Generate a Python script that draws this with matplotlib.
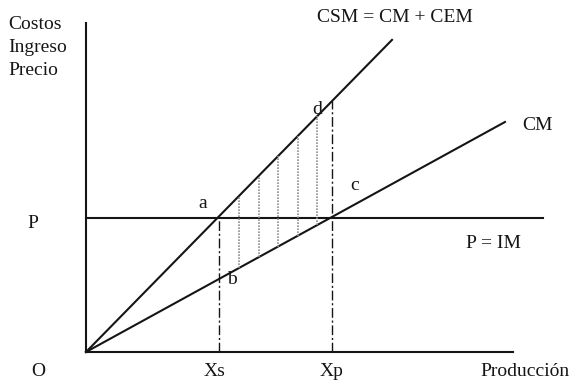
import matplotlib
matplotlib.use("Agg")
import matplotlib.pyplot as plt
import numpy as np

# quantities (1 unit ~ 10 px of the picture)
xs = 13.3          # social optimum
xp = 24.6          # private optimum
price = 13.4       # P = IM
slope_csm = 1.02   # CSM = CM + CEM
slope_cm = 0.549   # CM
x_end_csm = 30.6
x_end_cm = 41.9
x_end_p = 45.7
y_axis_top = 32.9
x_axis_end = 42.7
hatch_x = [15.3, 17.3, 19.2, 21.2, 23.1]

plt.rcParams['font.family'] = ['Liberation Serif', 'DejaVu Serif']

fig = plt.figure(figsize=(5.73, 3.87), dpi=100)
ax = fig.add_axes([0, 0, 1, 1])
ax.set_xlim(-8.6, 48.7)
ax.set_ylim(-3.5, 35.2)
ax.axis('off')

ink = '#151515'
lw = 1.5

# axes
ax.plot([0, 0], [0, y_axis_top], color=ink, lw=lw)
ax.plot([0, x_axis_end], [0, 0], color=ink, lw=lw)

# curves
ax.plot([0, x_end_csm], [0, slope_csm * x_end_csm], color=ink, lw=lw)
ax.plot([0, x_end_cm], [0, slope_cm * x_end_cm], color=ink, lw=lw)
ax.plot([0, x_end_p], [price, price], color=ink, lw=lw)

# dash-dot verticals
ax.plot([xs, xs], [0, price], color=ink, lw=1.0, ls=(0, (7, 2, 1.5, 2)))
ax.plot([xp, xp], [0, slope_csm * xp], color=ink, lw=1.0, ls=(0, (7, 2, 1.5, 2)))

# dotted hatch between CSM and CM
for hx in hatch_x:
    ax.plot([hx, hx], [slope_cm * hx, slope_csm * hx], color='#8f8f8f',
            lw=1.2, ls=(0, (1, 0.8)))

fs = 14
ax.text(-7.8, 33.6, 'Costos\nIngreso\nPrecio', fontsize=fs, va='top', ha='left',
        linespacing=1.45, color=ink)
ax.text(30.9, 33.4, 'CSM = CM + CEM', fontsize=fs, ha='center', va='center', color=ink)
ax.text(43.6, 22.7, 'CM', fontsize=fs, ha='left', va='center', color=ink)
ax.text(40.7, 10.9, 'P = IM', fontsize=fs, ha='center', va='center', color=ink)
ax.text(-5.3, 12.9, 'P', fontsize=fs, ha='center', va='center', color=ink)
ax.text(-4.8, -2.0, 'O', fontsize=fs, ha='center', va='center', color=ink)
ax.text(xs - 0.4, -2.0, 'Xs', fontsize=fs, ha='center', va='center', color=ink)
ax.text(xp, -2.0, 'Xp', fontsize=fs, ha='center', va='center', color=ink)
ax.text(43.9, -2.0, 'Producción', fontsize=fs, ha='center', va='center', color=ink)

ax.text(11.7, 14.8, 'a', fontsize=fs, ha='center', va='center', color=ink)
ax.text(14.6, 7.2, 'b', fontsize=fs, ha='center', va='center', color=ink)
ax.text(26.9, 16.6, 'c', fontsize=fs, ha='center', va='center', color=ink)
ax.text(23.1, 24.3, 'd', fontsize=fs, ha='center', va='center', color=ink)

fig.savefig('out.png', dpi=100)
